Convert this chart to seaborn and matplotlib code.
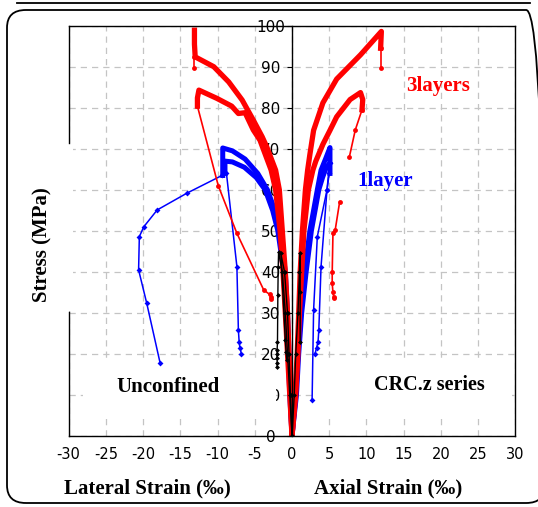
import matplotlib
matplotlib.use("Agg")
import matplotlib.pyplot as plt
import seaborn as sns
from matplotlib.patches import Rectangle, FancyBboxPatch
from matplotlib.lines import Line2D

plt.rcParams['axes.unicode_minus'] = False

# ---- data: strain (per mille) / stress (MPa) ----
# 3 layers, specimen A (peak ~98 MPa)
red_a_lat_strain = [0, -0.2, -0.4, -0.6, -0.9, -1.3, -1.7, -2.2, -3.4, -4.0, -5.2, -6.7, -8.5, -10.5, -13.0, -13.1, -13.1]
red_a_lat_stress = [0, 10, 20, 30, 40, 50, 60, 64.8, 70.5, 72.9, 77.0, 81.9, 86.3, 90.0, 92.4, 95.5, 98.9]
red_a_lat_post_strain = [-13.1, -13.1]
red_a_lat_post_stress = [92.4, 89.7]
red_a_ax_strain = [0, 0.4, 0.7, 0.9, 1.1, 1.4, 1.8, 2.1, 2.4, 2.9, 4.15, 6.0, 9.2, 12.0, 11.9]
red_a_ax_stress = [0, 10, 20, 30, 40, 50, 60, 64.8, 68.6, 74.5, 81.2, 87.0, 92.9, 98.6, 94.5]
red_a_ax_post_strain = [11.9, 11.9]
red_a_ax_post_stress = [94.5, 89.7]

# 3 layers, specimen B (peak ~84 MPa)
red_b_lat_strain = [0, -0.3, -0.6, -0.9, -1.2, -1.6, -2.2, -2.8, -4.3, -5.2, -6.3, -7.2, -8.1, -10.1, -12.5, -12.7, -12.7]
red_b_lat_stress = [0, 10, 20, 30, 40, 50, 60, 64.8, 72.1, 74.6, 78.8, 78.6, 80.4, 82.3, 84.3, 82.4, 80.4]
red_b_lat_post_strain = [-12.7, -9.9, -7.4, -3.8, -3.0, -2.8, -2.8]
red_b_lat_post_stress = [80.4, 61.0, 49.4, 35.6, 34.5, 33.8, 33.3]
red_b_ax_strain = [0, 0.5, 0.8, 1.0, 1.3, 1.6, 2.2, 2.8, 3.2, 4.15, 5.1, 6.0, 7.8, 9.2, 9.5, 9.4]
red_b_ax_stress = [0, 10, 20, 30, 40, 50, 60, 64.8, 67.0, 71.1, 74.5, 77.8, 82.0, 83.7, 82.0, 79.5]
red_b_ax_post1_strain = [9.4, 8.5, 7.7]
red_b_ax_post1_stress = [79.5, 74.6, 68.0]
red_b_ax_post2_strain = [6.4, 5.8, 5.5, 5.4, 5.4, 5.5, 5.6, 5.6]
red_b_ax_post2_stress = [57.1, 50.2, 49.4, 40.0, 37.2, 35.0, 34.0, 33.6]

# 1 layer, specimen C (peak ~70 MPa)
blue_c_lat_strain = [0, -0.2, -0.4, -0.6, -0.9, -1.6, -2.3, -3.3, -4.6, -6.3, -8.0, -9.3, -9.3, -9.3]
blue_c_lat_stress = [0, 10, 20, 30, 40, 50, 55, 60, 64, 67.5, 69.5, 70.2, 67, 63.5]
blue_c_lat_post_strain = [-9.4, -14.1, -18.1, -19.9, -20.5, -20.6, -19.5, -17.7]
blue_c_lat_post_stress = [63.5, 59.2, 55.1, 51.0, 48.6, 40.5, 32.3, 17.7]
blue_c_ax_strain = [0, 0.5, 0.8, 1.1, 1.7, 2.4, 2.9, 3.4, 3.9, 4.5, 5.1, 5.1, 5.1]
blue_c_ax_stress = [0, 10, 20, 30, 40, 50, 55, 60, 64.8, 67.5, 70.3, 67, 64]
blue_c_ax_post_strain = [5.0, 4.7, 3.4, 2.9, 2.7]
blue_c_ax_post_stress = [64, 60, 48.6, 30.7, 8.8]

# 1 layer, specimen D (peak ~67 MPa)
blue_d_lat_strain = [0, -0.3, -0.5, -0.8, -1.1, -1.9, -2.6, -3.6, -4.8, -6.4, -8.0, -9.0, -9.0, -9.0]
blue_d_lat_stress = [0, 10, 20, 30, 40, 50, 55, 60, 63, 65.5, 66.8, 67.0, 65, 64]
blue_d_lat_post_strain = [-8.8, -7.4, -7.2, -7.1, -7.0, -6.8]
blue_d_lat_post_stress = [64, 41.3, 25.8, 23.0, 21.5, 20.1]
blue_d_ax_strain = [0, 0.6, 0.9, 1.3, 1.9, 2.6, 3.1, 3.6, 4.1, 4.6, 5.05]
blue_d_ax_stress = [0, 10, 20, 30, 40, 50, 55, 60, 63, 65.5, 66.5]
blue_d_ax_post_strain = [5.05, 4.7, 3.9, 3.6, 3.5, 3.3, 3.1]
blue_d_ax_post_stress = [66.5, 60, 41.3, 25.8, 23.0, 21.5, 20.1]

# unconfined
black_e_lat_strain = [0, -0.3, -0.6, -0.9, -1.3, -1.8, -1.85, -1.9, -1.95, -2.0, -2.0, -2.0, -2.0, -2.0]
black_e_lat_stress = [0, 10, 20, 30, 40, 44.9, 41.3, 34.4, 22.8, 21.0, 20.0, 19.0, 17.7, 16.9]
black_f_lat_strain = [0, -0.2, -0.4, -0.6, -1.0, -1.5, -0.9, -0.8, -0.7]
black_f_lat_stress = [0, 10, 20, 30, 40, 44.5, 23.4, 20.5, 18.5]
black_ax_strain = [0, 0.3, 0.5, 0.8, 1.0, 1.1, 1.1, 1.1]
black_ax_stress = [0, 10, 20, 30, 40, 44.5, 35, 23]

RED = '#ff0000'
BLUE = '#0000ff'

fig = plt.figure(figsize=(5.38, 5.07), dpi=100)
ax = fig.add_axes([0.1275, 0.140, 0.8305, 0.8093])


def curve(x, y, color, lw, marker=None, ms=0):
    sns.lineplot(x=x, y=y, sort=False, estimator=None, color=color, lw=lw,
                 marker=marker, markersize=ms, markeredgewidth=0, ax=ax)


#1 layer
for x, y in [(blue_c_lat_strain, blue_c_lat_stress), (blue_d_lat_strain, blue_d_lat_stress),
             (blue_c_ax_strain, blue_c_ax_stress), (blue_d_ax_strain, blue_d_ax_stress)]:
    curve(x, y, BLUE, 3.6)
for x, y in [(blue_c_lat_post_strain, blue_c_lat_post_stress), (blue_d_lat_post_strain, blue_d_lat_post_stress),
             (blue_c_ax_post_strain, blue_c_ax_post_stress), (blue_d_ax_post_strain, blue_d_ax_post_stress)]:
    curve(x, y, BLUE, 1.1, 'D', 3)

#3 layers
for x, y in [(red_a_lat_strain, red_a_lat_stress), (red_b_lat_strain, red_b_lat_stress),
             (red_a_ax_strain, red_a_ax_stress), (red_b_ax_strain, red_b_ax_stress)]:
    curve(x, y, RED, 3.8)
for x, y in [(red_a_lat_post_strain, red_a_lat_post_stress), (red_a_ax_post_strain, red_a_ax_post_stress),
             (red_b_lat_post_strain, red_b_lat_post_stress), (red_b_ax_post1_strain, red_b_ax_post1_stress),
             (red_b_ax_post2_strain, red_b_ax_post2_stress)]:
    curve(x, y, RED, 1.2, 'o', 3.5)

#unconfined
for x, y in [(black_e_lat_strain, black_e_lat_stress), (black_f_lat_strain, black_f_lat_stress),
             (black_ax_strain, black_ax_stress)]:
    curve(x, y, 'black', 1.0, 'D', 2.5)

ax.set_xlim(-30, 30)
ax.set_ylim(0, 100)
ax.set_xticks(range(-30, 31, 5))
ax.set_yticks(range(0, 101, 10))
ax.set_xlabel('')
ax.set_ylabel('')
ax.spines['left'].set_position(('data', 0))
for s in ax.spines.values():
    s.set_linewidth(1.0)
    s.set_color('black')
ax.set_axisbelow(True)
ax.grid(True, color='#c4c4c4', linestyle=(0, (5, 4)), lw=0.9)
ax.tick_params(axis='x', length=0, pad=8, labelsize=10.5)
ax.tick_params(axis='y', length=3.5, pad=12, labelsize=11, direction='out')
for lbl in ax.get_yticklabels():
    lbl.set_ha('center')

# left border of the plot box (with the gap behind the y label)
ax.axvline(-30, ymin=0, ymax=0.303, color='black', lw=1.0, clip_on=False)
ax.axvline(-30, ymin=0.714, ymax=1, color='black', lw=1.0, clip_on=False)
ax.add_patch(Rectangle((-30.3, 30.5), 0.9, 40.8, fc='white', ec='none', zorder=1, clip_on=False))

# white boxes behind the captions
ax.add_patch(Rectangle((-28, 5.1), 25.8, 12.9, fc='white', ec='none', zorder=1))
ax.add_patch(Rectangle((3.1, 5.1), 26.4, 12.9, fc='white', ec='none', zorder=1))

serif = dict(family='Liberation Serif', fontweight='bold')
ax.text(-16.6, 11.9, 'Unconfined', ha='center', va='center', fontsize=15, zorder=5, **serif)
ax.text(18.4, 12.4, 'CRC.z series', ha='center', va='center', fontsize=14.5, zorder=5, **serif)
ax.text(19.6, 85.3, '3layers', ha='center', va='center', fontsize=15, color=RED, zorder=5, **serif)
ax.text(12.5, 62.2, '1layer', ha='center', va='center', fontsize=15, color=BLUE, zorder=5, **serif)

fig.text(42 / 538, 1 - 245 / 507, 'Stress (MPa)', rotation=90, ha='center', va='center', fontsize=15, **serif)
fig.text(147.5 / 538, 1 - 488 / 507, 'Lateral Strain (‰)', ha='center', va='center', fontsize=15, **serif)
fig.text(388 / 538, 1 - 488 / 507, 'Axial Strain (‰)', ha='center', va='center', fontsize=15, **serif)

# outer rounded frame
fig.add_artist(FancyBboxPatch((7 / 538, 4 / 507), 545 / 538 - 7 / 538, 1 - 10 / 507 - 4 / 507,
                              boxstyle='round,pad=0,rounding_size=0.035', transform=fig.transFigure,
                              fill=False, ec='black', lw=1.3))
fig.add_artist(Line2D([17 / 538, 530 / 538], [1 - 2.5 / 507] * 2, transform=fig.transFigure, color='black', lw=1.3))

fig.savefig('out.png', dpi=100)
